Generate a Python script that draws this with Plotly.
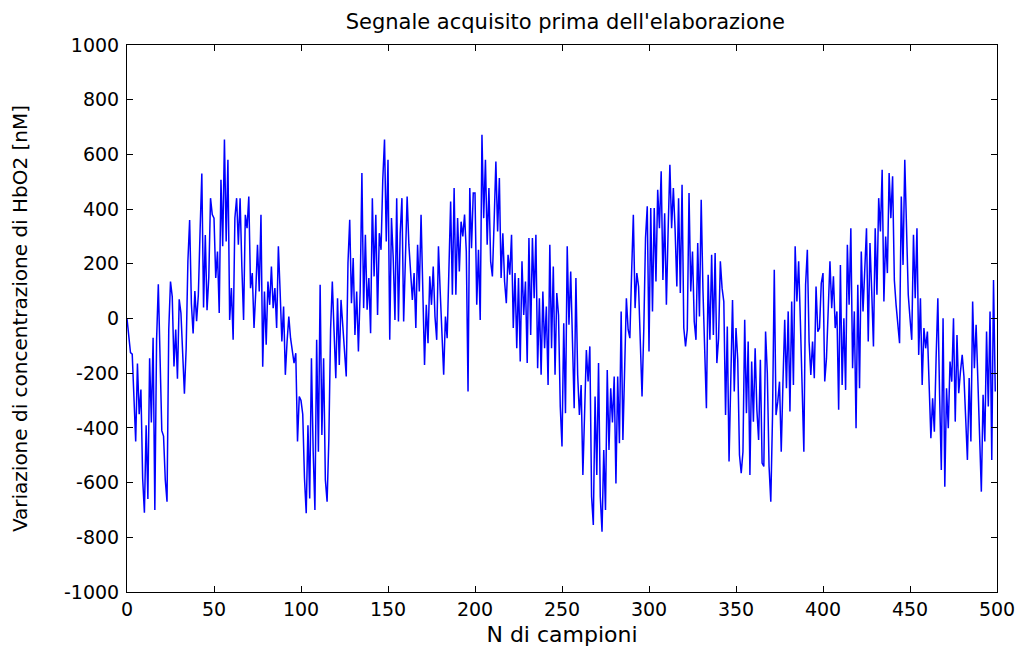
import plotly.graph_objects as go

# Signal values, 50 samples per block (n = 0..499)
seg_000 = [0, -65, -125, -130, -285, -450, -165, -350, -260, -585,
           -710, -390, -660, -145, -380, -70, -700, -80, 125, -145,
           -410, -430, -590, -670, -40, 135, 80, -175, -40, -220,
           70, 20, -110, -275, -110, 210, 360, 55, -55, 100,
           -10, 87, 320, 530, 40, 305, 30, 150, 440, 380]
seg_050 = [367, 148, 245, 20, 507, 264, 654, 282, 580, -5,
           111, -78, 367, 440, 270, 440, 190, -5, 379, 330,
           446, 111, 166, -35, 99, 270, 99, 379, -176, 99,
           -96, 135, 50, 190, 38, 111, -35, 264, 99, -84,
           44, -206, -84, 7, -72, -121, -163, -127, -450, -285]
seg_100 = [-300, -350, -584, -712, -390, -658, -145, -487, -700, -78,
           -487, 123, -426, -145, -590, -670, -444, -41, 135, -48,
           -218, 74, -170, 68, -23, -109, -212, 203, 361, 56,
           221, -60, 99, -121, 99, 532, 38, 306, 32, 148,
           -54, 440, 154, 379, 13, 312, 251, 507, 654, 282]
seg_150 = [580, -78, 367, 221, -5, 440, -11, 310, 440, -11,
           221, 446, 270, 160, 68, 166, -35, 270, 99, 379,
           99, -170, 50, -90, 154, 50, 190, 7, -78, 264,
           99, -84, -206, 7, -72, 178, 428, 87, 477, 87,
           367, 172, 354, 300, 380, 245, -267, 477, 257, 459]
seg_200 = [459, 50, 251, -5, 672, 367, 580, 270, 477, 209,
           154, 355, 574, 318, 514, 148, 312, 135, 56, 233,
           160, 306, -35, 166, -109, 148, -157, 209, 13, 135,
           -163, 294, -60, 294, 74, 306, -182, 74, -206, 99,
           -109, 44, -243, 270, -109, 190, -206, 93, 13, -322]
seg_250 = [-468, -17, -346, 264, -23, 172, -60, -328, 148, -206,
           -353, -243, -572, -371, -115, -230, -102, -651, -755, -285,
           -572, -163, -651, -780, -481, -700, -188, -481, -255, -380,
           -212, -603, -212, -456, 26, -444, -133, 74, -40, -72,
           166, 379, 38, 166, 117, -115, -285, -41, 294, 410]
seg_300 = [-121, 404, 26, 404, 135, 471, 330, 538, 141, 385,
           50, 324, 562, 330, 477, 324, 117, 440, 93, 489,
           -35, -102, -41, 459, 99, 245, -11, -78, 276, 7,
           434, 105, -78, -328, 160, -78, 233, -60, 239, -163,
           -72, 209, 111, 62, -353, -29, -523, -157, 68, -267]
seg_350 = [-35, -151, -499, -566, -487, -5, -346, -84, -572, -157,
           -377, -109, -334, -444, -151, -529, -541, -48, -200, -541,
           -670, -353, 178, -353, -304, -231, -487, -231, -5, -255,
           26, -340, 62, -243, 264, 62, 209, -11, -279, -487,
           123, 251, -84, -206, -84, -218, 117, -48, -35, 129]
seg_400 = [166, -230, -145, 74, 209, 38, 154, -35, 26, -334,
           196, -243, 1, -261, 270, 50, 330, -182, 26, -401,
           123, -255, 245, 26, 178, 330, -84, 276, 99, -102,
           330, 87, 440, 318, 544, 62, 300, 166, 532, 367,
           520, 141, 50, -23, -90, 446, 196, 580, 337, 87]
seg_450 = [1, -78, 306, 74, 330, -133, 74, -243, -35, -109,
           -48, -279, -438, -292, -414, -145, 74, -279, -554, 1,
           -615, -255, -401, -157, -231, 1, -377, -60, -273, -194,
           -133, -212, -401, -517, -218, -450, 62, -182, -23, -243,
           -487, -633, -279, -450, -48, -322, 26, -517, 141, -267]

signal = (seg_000 + seg_050 + seg_100 + seg_150 + seg_200 +
          seg_250 + seg_300 + seg_350 + seg_400 + seg_450)
samples = list(range(len(signal)))

x_ticks = [0, 50, 100, 150, 200, 250, 300, 350, 400, 450, 500]
y_ticks = [-1000, -800, -600, -400, -200, 0, 200, 400, 600, 800, 1000]
y_tick_labels = ["-1000", "-800", "-600", "-400", "-200", "0",
                 "200", "400", "600", "800", "1000"]

title_text = "Segnale acquisito prima dell'elaborazione"
x_title = "N di campioni"
y_title = "Variazione di concentrazione di HbO2 [nM]"

FONT = "DejaVu Sans"

fig = go.Figure()
fig.add_trace(go.Scatter(x=samples, y=signal, mode="lines",
                         line=dict(color="#0000ff", width=1.5),
                         showlegend=False, hoverinfo="skip"))

axis_common = dict(showgrid=False, zeroline=False, showline=True,
                   linecolor="#000000", linewidth=1, mirror="ticks",
                   ticks="inside", ticklen=6, tickcolor="#000000",
                   tickwidth=1, automargin=False,
                   tickfont=dict(family=FONT, size=19, color="#000000"))

fig.update_layout(
    width=1018, height=641,
    margin=dict(l=119, r=29, t=37, b=57, autoexpand=False),
    paper_bgcolor="white", plot_bgcolor="white",
    title=dict(text=title_text, x=0.5475, xanchor="center", y=0.978, yanchor="middle",
               font=dict(family=FONT, size=21, color="#000000")),
    xaxis=dict(range=[0, 500], tickvals=x_ticks,
               title=dict(text=x_title, standoff=7,
                          font=dict(family=FONT, size=22, color="#000000")),
               **axis_common),
    yaxis=dict(range=[-1000, 1000], tickvals=y_ticks, ticktext=y_tick_labels,
               ticklabelstandoff=3,
               title=dict(text=y_title, standoff=30,
                          font=dict(family=FONT, size=20, color="#000000")),
               **axis_common),
)

fig.write_html("out.html")
